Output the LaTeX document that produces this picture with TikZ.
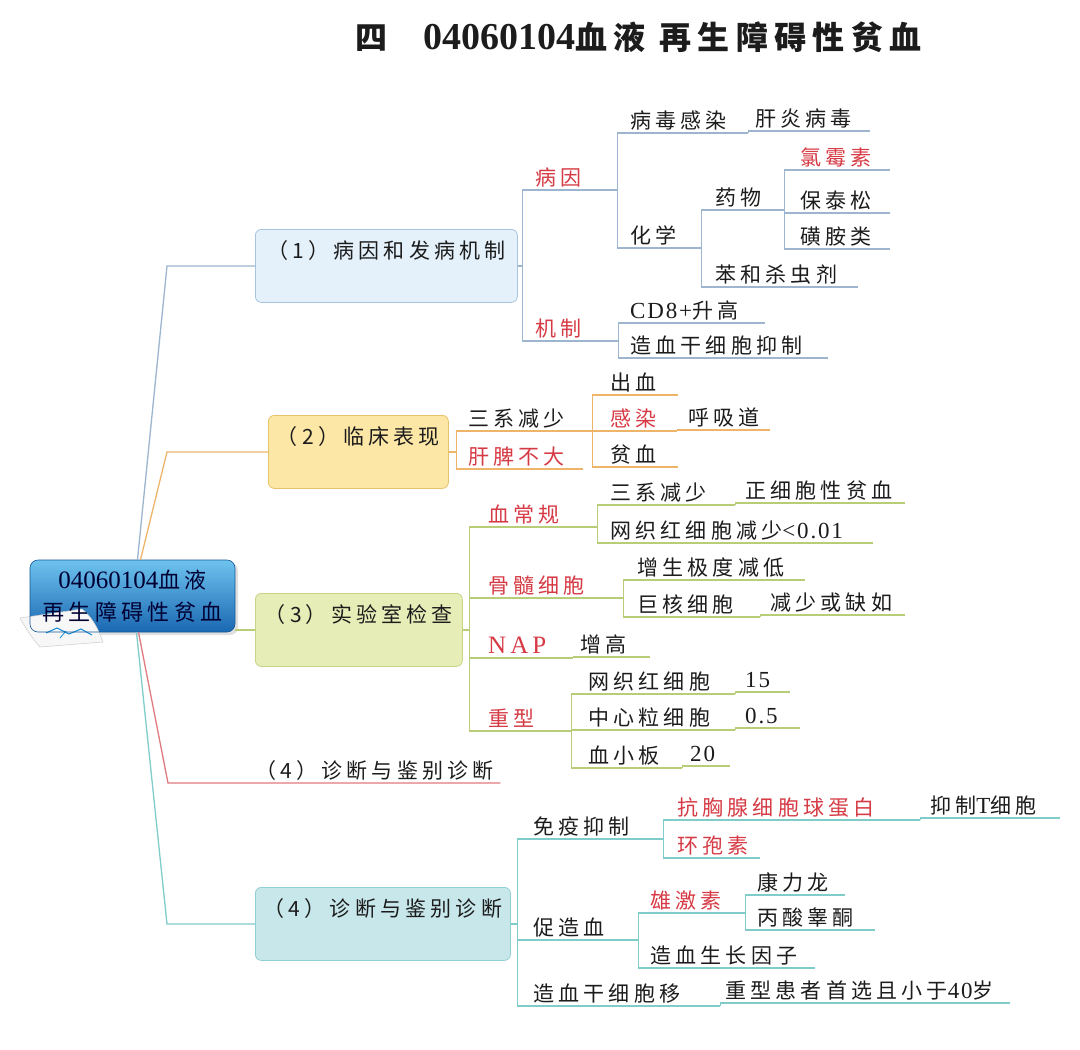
\documentclass[tikz,border=0pt]{standalone}
\usepackage{fontspec}
\setmainfont{Noto Sans CJK SC}[LetterSpace=20]
\newfontfamily\lat{Liberation Serif}[LetterSpace=8]
\newfontfamily\latw{Liberation Serif}[LetterSpace=16]
\newfontfamily\latn{Liberation Serif}
\newcommand\ltn[1]{{\lat\fontsize{23}{26}\selectfont #1}}
\definecolor{cA}{HTML}{9DB5CF}
\definecolor{cB}{HTML}{EDB46A}
\definecolor{cC}{HTML}{B9CC78}
\definecolor{cD}{HTML}{E07A80}
\definecolor{cE}{HTML}{7FCCCB}
\definecolor{rt}{HTML}{D63A44}
\definecolor{tx}{HTML}{1C1C1C}
\definecolor{rootT}{HTML}{6EC3EE}
\definecolor{rootB}{HTML}{1A68B2}
\definecolor{f1}{HTML}{E4F1FB}\definecolor{d1}{HTML}{A8C3DD}
\definecolor{f2}{HTML}{FDE7A6}\definecolor{d2}{HTML}{E6C36A}
\definecolor{f3}{HTML}{E6EDB7}\definecolor{d3}{HTML}{C5D486}
\definecolor{f4}{HTML}{C8E7EB}\definecolor{d4c}{HTML}{8FCFD5}
\tikzset{
  leaf/.style={anchor=south west, inner xsep=0pt, inner ysep=1pt, text height=17pt, text depth=3pt,
    font=\fontsize{21}{24}\selectfont, text=tx, align=left},
  hl/.style={text=rt},
  mbox/.style={draw, rounded corners=6pt, anchor=north west, inner xsep=0pt, inner ysep=6pt,
    text height=23pt, text depth=38pt, font=\fontsize{21}{24}\selectfont, text=tx, line width=0.8pt},
  ln/.style={line width=1.3pt}
}
\begin{document}
\begin{tikzpicture}[x=1pt,y=-1pt]
\useasboundingbox (0,0) rectangle (1080,1050);
\fill[white] (0,0) rectangle (1080,1050);

% title
\node[anchor=west, inner sep=0pt, text=tx, font=\fontsize{32}{36}\selectfont\bfseries] (title) at (355,37)
  {四\hspace{36pt}{\latn\fontsize{38}{40}\selectfont\bfseries 04060104}血液 再生障碍性贫血};

% root box fill, paper decoration, then root node with text on top
\fill[black!12, rounded corners=8pt] (32,563) rectangle (238,635);
\shade[rounded corners=8pt, top color=rootT, bottom color=rootB] (30,560) rectangle (235,632);
\fill[gray!6] (20,618) -- (82,609) .. controls (92,617) and (98,628) .. (103,642) -- (40,647) .. controls (31,637) and (25,627) .. (20,618) -- cycle;
\draw[gray!40, line width=0.5pt] (20,618) -- (82,609) .. controls (92,617) and (98,628) .. (103,642) -- (40,647) .. controls (31,637) and (25,627) .. (20,618) -- cycle;
\draw[cyan!70!blue, line width=1pt] (46,633) -- (57,628) -- (69,634) -- (81,629) -- (92,635);
\draw[cyan!70!blue, line width=0.8pt] (60,638) -- (66,631);
\node[rounded corners=8pt, draw=rootB!85!black, line width=0.6pt,
  minimum width=205pt, minimum height=72pt, align=center, text=black!80!blue,
  font=\fontsize{22}{32}\selectfont, inner sep=0pt] (root) at (132.5,596)
  {{\latn\fontsize{25}{32}\selectfont 04060104}血液\\再生障碍性贫血};

% branch boxes
\node[mbox, fill=f1, draw=d1, minimum width=262pt] (b1) at (255,229) {（1）病因和发病机制};
\node[mbox, fill=f2, draw=d2, minimum width=180pt] (b2) at (268,415) {（2）临床表现};
\node[mbox, fill=f3, draw=d3, minimum width=207pt] (b3) at (255,593) {（3）实验室检查};
\node[leaf, text width=245pt] (d4) at (255,783) {（4）诊断与鉴别诊断};
\node[mbox, fill=f4, draw=d4c, minimum width=255pt] (b4) at (255,887) {（4）诊断与鉴别诊断};

% root connectors
\draw[ln,cA] ([xshift=5pt]root.north) -- ([xshift=-88pt]b1.west) -- (b1.west);
\draw[ln,cB] ([xshift=8pt]root.north) -- ([xshift=-101pt]b2.west) -- (b2.west);
\draw[ln,cC] (root.east |- b3.west) -- (b3.west);
\draw[ln,cD] ([xshift=6pt]root.south) -- ([xshift=-87pt]d4.south west) -- (d4.south east);
\draw[ln,cE] ([xshift=4pt]root.south) -- ([xshift=-88pt]b4.west) -- (b4.west);

% ===== subtree 1 =====
\node[leaf,hl,text width=82pt] (by) at (535,190) {病因};
\node[leaf,text width=118pt] (bq) at (630,133) {病毒感染};
\node[leaf,text width=115pt] (bg) at (755,131) {肝炎病毒};
\node[leaf,text width=71pt] (hx) at (630,248) {化学};
\node[leaf,text width=69pt] (yw) at (715,210) {药物};
\node[leaf,hl,text width=90pt] (lm) at (800,170) {氯霉素};
\node[leaf,text width=90pt] (bt) at (800,213) {保泰松};
\node[leaf,text width=90pt] (ha) at (800,249) {磺胺类};
\node[leaf,text width=143pt] (bh) at (715,287) {苯和杀虫剂};
\node[leaf,hl,text width=83pt] (jz) at (535,341) {机制};
\node[leaf,text width=135pt] (cd) at (630,323) {\ltn{CD8+}升高};
\node[leaf,text width=198pt] (zy) at (630,358) {造血干细胞抑制};

\draw[ln,cA] (b1.east) -- ++(5,0) |- (by.south east);
\draw[ln,cA] (b1.east) -- ++(5,0) |- (jz.south east);
\draw[ln,cA] (by.south east) |- (bq.south east);
\draw[ln,cA] (by.south east) |- (hx.south east);
\draw[ln,cA] (bq.south east) |- (bg.south east);
\draw[ln,cA] (hx.south east) |- (yw.south east);
\draw[ln,cA] (hx.south east) |- (bh.south east);
\draw[ln,cA] (yw.south east) |- (lm.south east);
\draw[ln,cA] (yw.south east) |- (bt.south east);
\draw[ln,cA] (yw.south east) |- (ha.south east);
\draw[ln,cA] (jz.south east) |- (cd.south east);
\draw[ln,cA] (jz.south east) |- (zy.south east);

% ===== subtree 2 =====
\node[leaf,text width=124pt] (sx) at (468,431) {三系减少};
\node[leaf,hl,text width=115pt] (gp) at (468,469) {肝脾不大};
\node[leaf,text width=68pt] (cx) at (610,395) {出血};
\node[leaf,hl,text width=67pt] (gr) at (610,431) {感染};
\node[leaf,text width=82pt] (hxd) at (688,430) {呼吸道};
\node[leaf,text width=68pt] (px) at (610,467) {贫血};

\draw[ln,cB] (b2.east) -- ++(8,0) |- (sx.south east);
\draw[ln,cB] (b2.east) -- ++(8,0) |- (gp.south east);
\draw[ln,cB] (sx.south east) |- (cx.south east);
\draw[ln,cB] (sx.south east) |- (gr.south east);
\draw[ln,cB] (sx.south east) |- (px.south east);
\draw[ln,cB] (gr.south east) |- (hxd.south east);

% ===== subtree 3 =====
\node[leaf,hl,text width=109pt] (xc) at (488,527) {血常规};
\node[leaf,text width=125pt] (sx3) at (610,505) {三系减少};
\node[leaf,text width=160pt] (zxp) at (745,503) {正细胞性贫血};
\node[leaf,text width=263pt] (wz) at (610,543) {网织红细胞减少\ltn{<0.01}};
\node[leaf,hl,text width=135pt] (gs) at (488,598) {骨髓细胞};
\node[leaf,text width=168pt] (zs) at (637,580) {增生极度减低};
\node[leaf,text width=123pt] (jh) at (637,617) {巨核细胞};
\node[leaf,text width=135pt] (js) at (770,615) {减少或缺如};
\node[leaf,hl,text width=85pt] (nap) at (488,658) {{\latw\fontsize{25}{26}\selectfont NAP}};
\node[leaf,text width=70pt] (zg) at (580,657) {增高};
\node[leaf,hl,text width=83pt] (zx3) at (488,731) {重型};
\node[leaf,text width=147pt] (wh) at (588,694) {网织红细胞};
\node[leaf,text width=45pt] (n15) at (745,692) {\ltn{15}};
\node[leaf,text width=147pt] (zl) at (588,730) {中心粒细胞};
\node[leaf,text width=55pt] (n05) at (745,728) {\ltn{0.5}};
\node[leaf,text width=94pt] (xx) at (588,768) {血小板};
\node[leaf,text width=40pt] (n20) at (690,766) {\ltn{20}};

\draw[ln,cC] (b3.east) -- ++(7,0) |- (xc.south east);
\draw[ln,cC] (b3.east) -- ++(7,0) |- (gs.south east);
\draw[ln,cC] (b3.east) -- ++(7,0) |- (nap.south east);
\draw[ln,cC] (b3.east) -- ++(7,0) |- (zx3.south east);
\draw[ln,cC] (xc.south east) |- (sx3.south east);
\draw[ln,cC] (xc.south east) |- (wz.south east);
\draw[ln,cC] (sx3.south east) |- (zxp.south east);
\draw[ln,cC] (gs.south east) |- (zs.south east);
\draw[ln,cC] (gs.south east) |- (jh.south east);
\draw[ln,cC] (jh.south east) |- (js.south east);
\draw[ln,cC] (nap.south east) |- (zg.south east);
\draw[ln,cC] (zx3.south east) |- (wh.south east);
\draw[ln,cC] (zx3.south east) |- (zl.south east);
\draw[ln,cC] (zx3.south east) |- (xx.south east);
\draw[ln,cC] (wh.south east) |- (n15.south east);
\draw[ln,cC] (zl.south east) |- (n05.south east);
\draw[ln,cC] (xx.south east) |- (n20.south east);

% ===== subtree 4 =====
\node[leaf,text width=130pt] (my) at (533,839) {免疫抑制};
\node[leaf,hl,text width=243pt] (kx) at (677,820) {抗胸腺细胞球蛋白};
\node[leaf,text width=130pt] (yz) at (930,818) {抑制\ltn{T}细胞};
\node[leaf,hl,text width=83pt] (hb) at (677,858) {环孢素};
\node[leaf,text width=105pt] (cz) at (533,940) {促造血};
\node[leaf,hl,text width=95pt] (xj) at (650,913) {雄激素};
\node[leaf,text width=88pt] (kl) at (757,895) {康力龙};
\node[leaf,text width=118pt] (bs) at (757,930) {丙酸睾酮};
\node[leaf,text width=165pt] (zs4) at (650,968) {造血生长因子};
\node[leaf,text width=187pt] (yg) at (533,1006) {造血干细胞移};
\node[leaf,text width=285pt] (zx4) at (725,1003) {重型患者首选且小于\ltn{40}岁};

\draw[ln,cE] (b4.east) -- ++(7,0) |- (my.south east);
\draw[ln,cE] (b4.east) -- ++(7,0) |- (cz.south east);
\draw[ln,cE] (b4.east) -- ++(7,0) |- (yg.south east);
\draw[ln,cE] (my.south east) |- (kx.south east);
\draw[ln,cE] (my.south east) |- (hb.south east);
\draw[ln,cE] (kx.south east) |- (yz.south east);
\draw[ln,cE] (cz.south east) |- (xj.south east);
\draw[ln,cE] (cz.south east) |- (zs4.south east);
\draw[ln,cE] (xj.south east) |- (kl.south east);
\draw[ln,cE] (xj.south east) |- (bs.south east);
\draw[ln,cE] (yg.south east) |- (zx4.south east);
\end{tikzpicture}
\end{document}
